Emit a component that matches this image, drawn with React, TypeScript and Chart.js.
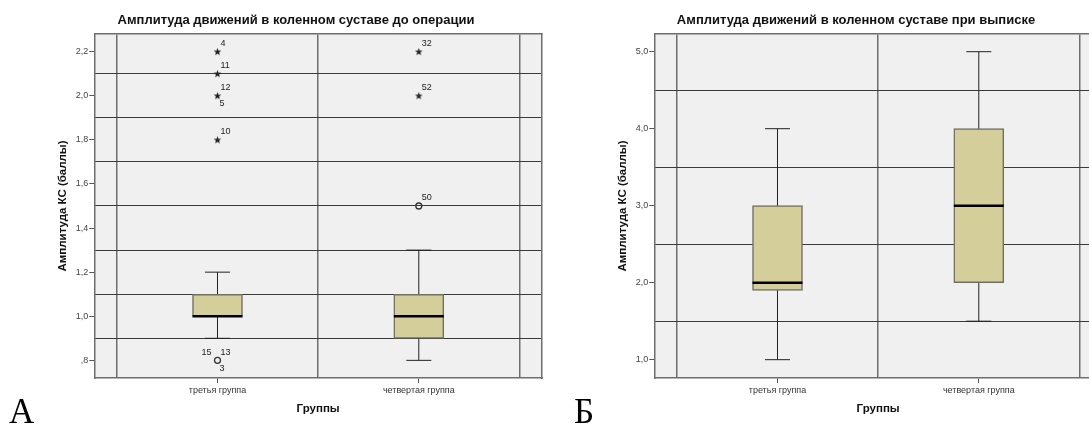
import React, { useEffect, useRef } from 'react';
import { Chart, registerables } from 'chart.js';

Chart.register(...registerables);

const FONT = '"Liberation Sans", Arial, sans-serif';

// Shared
const categories = ['третья группа', 'четвертая группа'];
const xGridLines = [-0.5, 0.5, 1.5];
const xMin = -0.612;
const xMax = 1.612;
const xTitle = 'Группы';
const yTitle = 'Амплитуда КС (баллы)';

// Panel A — before surgery
const titleA = 'Амплитуда движений в коленном суставе до операции';
const yMinA = 0.72;
const yMaxA = 2.28;
const yTicksA = [0.8, 1.0, 1.2, 1.4, 1.6, 1.8, 2.0, 2.2];
const yGridA = [0.9, 1.1, 1.3, 1.5, 1.7, 1.9, 2.1];
const whiskerLowA = [0.9, 0.8];
const q1A = [1.0, 0.9];
const medianA = [1.0, 1.0];
const q3A = [1.1, 1.1];
const whiskerHighA = [1.2, 1.3];
const outlierGroupA = [0, 1];
const outlierValueA = [0.8, 1.5];
const outlierLabelsA = [['13', '3', '15'], ['50']];
const extremeGroupA = [0, 0, 0, 0, 1, 1];
const extremeValueA = [2.2, 2.1, 2.0, 1.8, 2.2, 2.0];
const extremeLabelsA = [['4'], ['11'], ['12', '5'], ['10'], ['32'], ['52']];

// Panel B — at discharge
const titleB = 'Амплитуда движений в коленном суставе при выписке';
const yMinB = 0.762;
const yMaxB = 5.23;
const yTicksB = [1.0, 2.0, 3.0, 4.0, 5.0];
const yGridB = [1.5, 2.5, 3.5, 4.5];
const whiskerLowB = [1.0, 1.5];
const q1B = [1.9, 2.0];
const medianB = [2.0, 3.0];
const q3B = [3.0, 4.0];
const whiskerHighB = [4.0, 5.0];
const outlierGroupB: number[] = [];
const outlierValueB: number[] = [];
const outlierLabelsB: string[][] = [];
const extremeGroupB: number[] = [];
const extremeValueB: number[] = [];
const extremeLabelsB: string[][] = [];

type PanelProps = {
  left: number;
  title: string;
  letter: string;
  letterX: number;
  yMin: number;
  yMax: number;
  yTicks: number[];
  yGrid: number[];
  whiskerLow: number[];
  q1: number[];
  median: number[];
  q3: number[];
  whiskerHigh: number[];
  outGroup: number[];
  outValue: number[];
  outLabels: string[][];
  extGroup: number[];
  extValue: number[];
  extLabels: string[][];
};

const fmt = (v: number) => {
  let s = Number(v).toFixed(1).replace('.', ',');
  if (s.startsWith('0')) s = s.slice(1);
  return s;
};

// label slot offsets: upper-right, lower-right, upper-left
const SLOTS: [number, number, CanvasTextAlign][] = [
  [3, -8, 'left'],
  [2, 8, 'left'],
  [-6, -8, 'right'],
];

// small filled 5-point star sprite (SPSS extreme-value marker)
function makeStar(): HTMLCanvasElement {
  const c = document.createElement('canvas');
  c.width = 9;
  c.height = 9;
  const g = c.getContext('2d')!;
  g.fillStyle = '#222';
  g.beginPath();
  for (let k = 0; k < 10; k++) {
    const r = k % 2 === 0 ? 4 : 1.7;
    const a = -Math.PI / 2 + (k * Math.PI) / 5;
    const px = 4.5 + r * Math.cos(a);
    const py = 4.8 + r * Math.sin(a);
    if (k === 0) g.moveTo(px, py);
    else g.lineTo(px, py);
  }
  g.closePath();
  g.fill();
  return c;
}

const zeroPad = (s: any) => {
  s.paddingLeft = 0;
  s.paddingRight = 0;
  s.paddingTop = 0;
  s.paddingBottom = 0;
};

function Panel(p: PanelProps) {
  const ref = useRef<HTMLCanvasElement>(null);
  useEffect(() => {
    const canvas = ref.current!;
    const star = makeStar();
    const decor = {
      id: 'decor',
      beforeDraw(chart: any) {
        const { ctx, chartArea: a } = chart;
        ctx.save();
        ctx.fillStyle = '#f0f0f0';
        ctx.fillRect(a.left, a.top, a.right - a.left, a.bottom - a.top);
        ctx.restore();
      },
      afterDatasetsDraw(chart: any) {
        const { ctx } = chart;
        const xs = chart.scales.x;
        const ys = chart.scales.y;
        ctx.save();
        ctx.font = `9px ${FONT}`;
        ctx.fillStyle = '#222';
        ctx.textBaseline = 'middle';
        const draw = (groups: number[], values: number[], labels: string[][]) => {
          groups.forEach((g, i) => {
            const px = xs.getPixelForValue(g);
            const py = ys.getPixelForValue(values[i]);
            (labels[i] || []).forEach((t, k) => {
              const [dx, dy, al] = SLOTS[k % SLOTS.length];
              ctx.textAlign = al;
              ctx.fillText(t, px + dx, py + dy);
            });
          });
        };
        draw(p.outGroup, p.outValue, p.outLabels);
        draw(p.extGroup, p.extValue, p.extLabels);
        ctx.restore();
      },
      afterDraw(chart: any) {
        const { ctx } = chart;
        ctx.save();
        ctx.fillStyle = '#111';
        ctx.font = `bold 13px ${FONT}`;
        ctx.textAlign = 'center';
        ctx.textBaseline = 'middle';
        ctx.fillText(p.title, 296, 20);
        ctx.fillStyle = '#000';
        ctx.font = '35px "Liberation Serif", "Times New Roman", serif';
        ctx.textAlign = 'left';
        ctx.textBaseline = 'alphabetic';
        ctx.fillText(p.letter, p.letterX, 423);
        ctx.restore();
      },
    };

    const whiskerSets = categories.map((_, i) => ({
      type: 'line' as const,
      data: [
        { x: i, y: p.whiskerLow[i] },
        { x: i, y: p.whiskerHigh[i] },
      ],
      borderColor: '#222',
      borderWidth: 1,
      pointRadius: 0,
      fill: false,
      order: 4,
    }));

    const caps = categories.flatMap((_, i) => [
      { x: i, y: p.whiskerLow[i] },
      { x: i, y: p.whiskerHigh[i] },
    ]);

    const chart = new Chart(canvas, {
      type: 'bar',
      data: {
        datasets: [
          ...whiskerSets,
          {
            type: 'bar',
            data: categories.map((_, i) => ({ x: i, y: [p.q1[i], p.q3[i]] })),
            backgroundColor: '#d4cf9a',
            borderColor: '#6f6f64',
            borderWidth: 1.5,
            borderSkipped: false,
            barThickness: 50,
            order: 3,
          },
          {
            type: 'scatter',
            data: caps,
            pointStyle: 'line',
            pointRadius: 12.5,
            pointBorderColor: '#222',
            pointBorderWidth: 1,
            borderColor: '#222',
            order: 2,
          },
          {
            type: 'scatter',
            data: categories.map((_, i) => ({ x: i, y: p.median[i] })),
            pointStyle: 'line',
            pointRadius: 25,
            pointBorderColor: '#000',
            pointBorderWidth: 2.5,
            borderColor: '#000',
            order: 1,
          },
          {
            type: 'scatter',
            data: p.outGroup.map((g, i) => ({ x: g, y: p.outValue[i] })),
            pointStyle: 'circle',
            pointRadius: 3,
            pointBorderColor: '#333',
            pointBorderWidth: 1.3,
            pointBackgroundColor: 'rgba(0,0,0,0)',
            order: 0,
          },
          {
            type: 'scatter',
            data: p.extGroup.map((g, i) => ({ x: g, y: p.extValue[i] })),
            pointStyle: star,
            pointRadius: 4,
            order: 0,
          },
        ] as any,
      },
      options: {
        animation: false,
        responsive: false,
        events: [],
        layout: { autoPadding: false, padding: { left: 0, right: 18, top: 34, bottom: 0 } },
        plugins: {
          legend: { display: false },
          tooltip: { enabled: false },
          title: { display: false },
        },
        scales: {
          x: {
            type: 'linear',
            position: 'bottom',
            min: xMin,
            max: xMax,
            offset: false,
            bounds: 'data',
            afterBuildTicks: (s: any) => {
              s.ticks = categories.map((_, i) => ({ value: i }));
            },
            afterFit: (s: any) => {
              s.height = 48;
              zeroPad(s);
            },
            ticks: {
              callback: (v: any) => categories[Math.round(Number(v))],
              font: { family: FONT, size: 9 },
              color: '#333',
              padding: 2,
              maxRotation: 0,
              autoSkip: false,
            },
            grid: {
              drawOnChartArea: false,
              drawTicks: true,
              tickLength: 5,
              offset: false,
              tickColor: '#555',
            },
            border: { display: true, color: '#6e6e6e', width: 1.5 },
            title: {
              display: true,
              text: xTitle,
              color: '#111',
              font: { family: FONT, size: 11.5, weight: 'bold' },
              padding: { top: 0, bottom: 10.5 },
            },
          },
          x2: {
            type: 'linear',
            position: 'top',
            min: xMin,
            max: xMax,
            offset: false,
            bounds: 'data',
            afterBuildTicks: (s: any) => {
              s.ticks = xGridLines.map((v) => ({ value: v }));
            },
            afterFit: (s: any) => {
              s.height = 0;
              zeroPad(s);
            },
            ticks: { display: false },
            grid: {
              drawOnChartArea: true,
              drawTicks: false,
              offset: false,
              color: '#6e6e6e',
              lineWidth: 1.5,
            },
            border: { display: true, color: '#6e6e6e', width: 1.5 },
          },
          y: {
            type: 'linear',
            position: 'left',
            min: p.yMin,
            max: p.yMax,
            bounds: 'data',
            afterBuildTicks: (s: any) => {
              s.ticks = p.yTicks.map((v) => ({ value: v }));
            },
            afterFit: (s: any) => {
              s.width = 94.3;
              zeroPad(s);
            },
            ticks: {
              callback: (v: any) => fmt(v),
              font: { family: FONT, size: 9 },
              color: '#444',
              padding: 1,
              autoSkip: false,
            },
            grid: {
              drawOnChartArea: false,
              drawTicks: true,
              tickLength: 5,
              tickColor: '#555',
            },
            border: { display: true, color: '#6e6e6e', width: 1.5 },
            title: {
              display: true,
              text: yTitle,
              color: '#111',
              font: { family: FONT, size: 11.5, weight: 'bold' },
              padding: { top: 55.5, bottom: 0 },
            },
          },
          y2: {
            type: 'linear',
            position: 'right',
            min: p.yMin,
            max: p.yMax,
            bounds: 'data',
            afterBuildTicks: (s: any) => {
              s.ticks = p.yGrid.map((v) => ({ value: v }));
            },
            afterFit: (s: any) => {
              s.width = 0;
              zeroPad(s);
            },
            ticks: { display: false },
            grid: {
              drawOnChartArea: true,
              drawTicks: false,
              color: '#3a3a3a',
              lineWidth: 1,
            },
            border: { display: true, color: '#6e6e6e', width: 1.5 },
          },
        },
      } as any,
      plugins: [decor],
    });
    return () => chart.destroy();
  }, []);
  return (
    <canvas
      ref={ref}
      width={560}
      height={426}
      style={{ position: 'absolute', left: p.left, top: 0, display: 'block' }}
    />
  );
}

export default function App() {
  return (
    <div
      style={{
        position: 'fixed',
        left: 0,
        top: 0,
        width: 1089,
        height: 426,
        overflow: 'hidden',
        background: '#fff',
      }}
    >
      <Panel
        left={0}
        title={titleA}
        letter="А"
        letterX={9}
        yMin={yMinA}
        yMax={yMaxA}
        yTicks={yTicksA}
        yGrid={yGridA}
        whiskerLow={whiskerLowA}
        q1={q1A}
        median={medianA}
        q3={q3A}
        whiskerHigh={whiskerHighA}
        outGroup={outlierGroupA}
        outValue={outlierValueA}
        outLabels={outlierLabelsA}
        extGroup={extremeGroupA}
        extValue={extremeValueA}
        extLabels={extremeLabelsA}
      />
      <Panel
        left={560}
        title={titleB}
        letter="Б"
        letterX={14}
        yMin={yMinB}
        yMax={yMaxB}
        yTicks={yTicksB}
        yGrid={yGridB}
        whiskerLow={whiskerLowB}
        q1={q1B}
        median={medianB}
        q3={q3B}
        whiskerHigh={whiskerHighB}
        outGroup={outlierGroupB}
        outValue={outlierValueB}
        outLabels={outlierLabelsB}
        extGroup={extremeGroupB}
        extValue={extremeValueB}
        extLabels={extremeLabelsB}
      />
    </div>
  );
}
